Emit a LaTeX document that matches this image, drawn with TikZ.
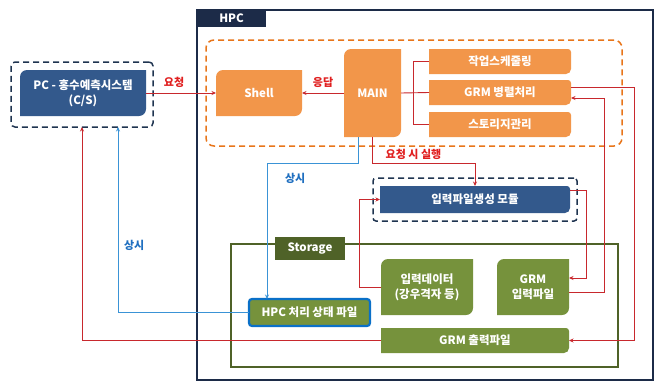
\documentclass[tikz,border=0pt]{standalone}
\usepackage{fontspec}
\setmainfont{Noto Sans CJK KR}
\usetikzlibrary{arrows.meta}
\definecolor{hpcnavy}{HTML}{1C2B48}
\definecolor{orfill}{HTML}{F2964A}
\definecolor{ordash}{HTML}{E8751A}
\definecolor{nvfill}{HTML}{33598C}
\definecolor{nvdash}{HTML}{1F3450}
\definecolor{redln}{HTML}{C8282D}
\definecolor{redtx}{HTML}{E02020}
\definecolor{blueln}{HTML}{3A93D6}
\definecolor{bluetx}{HTML}{1F6FC0}
\definecolor{bluebd}{HTML}{0A70C8}
\definecolor{grfill}{HTML}{76923C}
\definecolor{grdark}{HTML}{4F6228}
\begin{document}
\begin{tikzpicture}[x=1pt, y=-1pt, >={Stealth[length=4.5pt,width=4pt]},
 every node/.style={inner sep=0pt, outer sep=0pt, font=\fontsize{11.5}{15}\selectfont\bfseries, align=center},
 diag/.style={text=white, path picture={\fill[#1] (path picture bounding box.south west) -- ([yshift=-7pt]path picture bounding box.north west) arc[start angle=180, end angle=90, radius=7pt] -- (path picture bounding box.north east) -- ([yshift=7pt]path picture bounding box.south east) arc[start angle=0, end angle=-90, radius=7pt] -- cycle;}},
 rside/.style={text=white, path picture={\fill[#1] (path picture bounding box.south west) -- (path picture bounding box.north west) -- ([xshift=-3pt]path picture bounding box.north east) arc[start angle=90, end angle=0, radius=3pt] -- ([yshift=5pt]path picture bounding box.south east) arc[start angle=0, end angle=-90, radius=5pt] -- cycle;}},
 req/.style={draw=redln, line width=0.9pt},
 always/.style={draw=blueln, line width=0.9pt},
 redlbl/.style={text=redtx, font=\fontsize{11}{13}\selectfont\bfseries},
 bluelbl/.style={text=bluetx, font=\fontsize{11}{13}\selectfont\bfseries}]
\useasboundingbox (0,0) rectangle (661,383);
% HPC
\node[draw=hpcnavy, line width=1.6pt, minimum width=456, minimum height=370] (hpc) at (425,195) {};
\node[fill=hpcnavy, text=white, minimum width=69, minimum height=17] (hpctab) at (231.5,18.5) {HPC};
\node[draw=ordash, dashed, dash pattern=on 6pt off 4pt, line width=1.5pt, rounded corners=8pt, minimum width=416, minimum height=106] (orframe) at (414,93) {};
\node[diag=orfill, minimum width=86, minimum height=46] (shell) at (259,93) {Shell};
\node[diag=orfill, minimum width=57, minimum height=88] (main) at (372.5,93) {MAIN};
\node[rside=orfill, minimum width=142, minimum height=25] (sched) at (500,61.5) {작업스케줄링};
\node[rside=orfill, minimum width=142, minimum height=25] (grmpar) at (500,92.5) {GRM 병렬처리};
\node[rside=orfill, minimum width=142, minimum height=25] (stormg) at (500,124.5) {스토리지관리};
% PC
\node[draw=nvdash, dashed, dash pattern=on 6pt off 4pt, line width=1.5pt, rounded corners=4pt, minimum width=142, minimum height=65] (pcframe) at (82,94.5) {};
\node[diag=nvfill, minimum width=126, minimum height=46] (pc) at (83,93) {PC - 홍수예측시스템\\(C/S)};
% 입력파일생성
\node[draw=nvdash, dashed, dash pattern=on 6pt off 4pt, line width=1.5pt, rounded corners=3pt, minimum width=204, minimum height=43] (genframe) at (475,199.5) {};
\node[rside=nvfill, minimum width=190, minimum height=27] (gen) at (475,199.5) {입력파일생성 모듈};
% Storage
\node[draw=grdark, line width=1.5pt, minimum width=387, minimum height=123] (storage) at (424.5,305.5) {};
\node[fill=grdark, text=white, minimum width=70, minimum height=23] (stortab) at (310,248.5) {Storage};
\node[diag=grfill, minimum width=92, minimum height=56] (indata) at (427,287) {입력데이터\\(강우격자 등)};
\node[diag=grfill, minimum width=72, minimum height=56] (grmin) at (533,287) {GRM\\입력파일};
\node[fill=grfill, draw=bluebd, line width=2.2pt, rounded corners=3pt, text=white, minimum width=121, minimum height=27] (status) at (309.5,312.5) {HPC 처리 상태 파일};
\node[rside=grfill, minimum width=188, minimum height=25] (grmout) at (475,340.5) {GRM 출력파일};
% 연결선
\draw[req,->] (pc) -- node[redlbl, pos=0.4, above=5pt] {요청} (shell);
\draw[req,->] (main) -- node[redlbl, midway, above=5pt] {응답} (shell);
\draw[req] (main.east) -- (grmpar.west);
\draw[req] (sched.west) -- ++(-16,0) |- (stormg.west);
\draw[req,->] (main.south) -- ++(0,26) -| node[redlbl, pos=0.2, above=3pt] {요청 시 실행} (gen.north);
\draw[always,->] ([xshift=-14.5pt]main.south) -- ++(0,26) -| node[bluelbl, pos=0.5, anchor=north west, xshift=18pt, yshift=-10pt] {상시} ([xshift=-42.5pt]status.north);
\draw[req,->] (indata.west) -- ++(-22,0) |- (gen.west);
\draw[req,->] ([yshift=9.5pt]gen.east) -- ++(16,0) |- ([yshift=9pt]grmin.east);
\draw[req,->] ([yshift=-5pt]grmin.east) -- ++(35,0) |- ([yshift=-5.5pt]grmpar.east);
\draw[req,->] ([yshift=5.5pt]grmpar.east) -- ++(63,0) |- (grmout.east);
\draw[req,->] (grmout.west) -| (pcframe.south);
\draw[always,->] (status.west) -| node[bluelbl, pos=0.68, anchor=west, xshift=6pt] {상시} ([xshift=36pt]pcframe.south);
\end{tikzpicture}
\end{document}
